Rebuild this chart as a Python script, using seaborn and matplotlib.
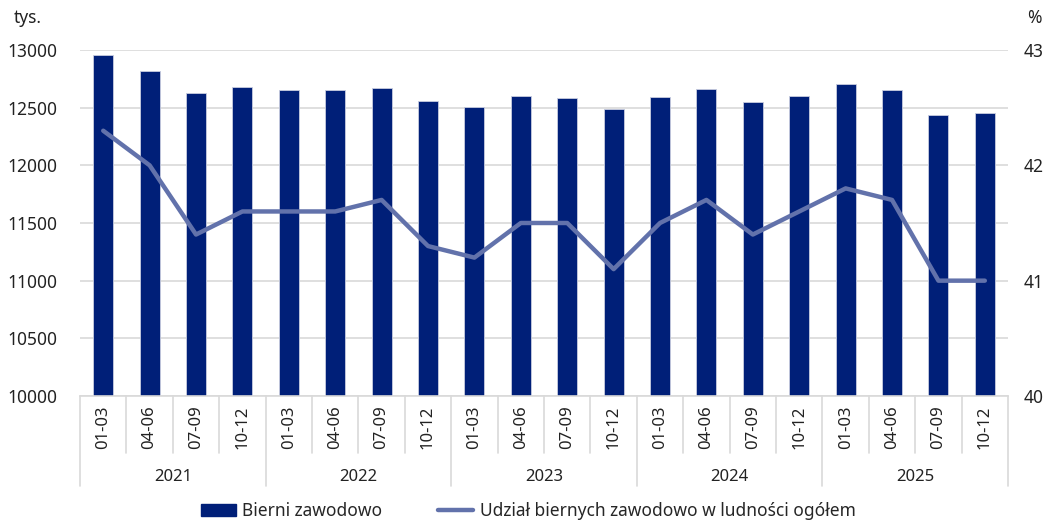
import matplotlib
matplotlib.use("Agg")
import matplotlib.pyplot as plt
from matplotlib.lines import Line2D
from matplotlib.patches import Patch
import pandas as pd
import seaborn as sns

years = ["2021", "2022", "2023", "2024", "2025"]
quarters = ["01-03", "04-06", "07-09", "10-12"]
bierni = [12960, 12820, 12630, 12680, 12655, 12655, 12670, 12560,
          12505, 12600, 12585, 12490, 12595, 12660, 12550, 12600,
          12705, 12655, 12435, 12455]
udzial = [42.3, 42.0, 41.4, 41.6, 41.6, 41.6, 41.7, 41.3,
          41.2, 41.5, 41.5, 41.1, 41.5, 41.7, 41.4, 41.6,
          41.8, 41.7, 41.0, 41.0]

BAR = "#001f78"
LINE = "#6272ab"
GRID = "#d9d9d9"

df = pd.DataFrame({
    "okres": [f"{y} {q}" for y in years for q in quarters],
    "kwartal": [q for y in years for q in quarters],
    "bierni": bierni,
    "udzial": udzial,
})
df["pos"] = range(len(df))

sns.set_style("white")
plt.rcParams["font.family"] = ["Noto Sans", "DejaVu Sans"]

fig = plt.figure(figsize=(10.46, 5.25), dpi=100)
ax = fig.add_axes([0.0765, 0.2457, 0.8872, 0.6591])

sns.barplot(data=df, x="okres", y="bierni", color=BAR, width=0.43,
            edgecolor="#c8cde0", linewidth=0.6, saturation=1, ax=ax, zorder=2)
ax.set_ylim(10000, 13000)
ax.set_xlim(-0.5, len(df) - 0.5)
ax.set_yticks(range(10000, 13001, 500))
ax.yaxis.grid(True, color=GRID, linewidth=1.2, zorder=0)
ax.set_axisbelow(True)
ax.set_xlabel("")
ax.set_ylabel("")
ax.set_xticks([])
for s in ["top", "right", "left"]:
    ax.spines[s].set_visible(False)
ax.spines["bottom"].set_color(GRID)
ax.spines["bottom"].set_linewidth(1.2)
ax.tick_params(axis="y", length=0, labelsize=12.5, pad=16, colors="#222222")

ax2 = ax.twinx()
sns.lineplot(data=df, x="pos", y="udzial", color=LINE, linewidth=3.2, ax=ax2)
ax2.set_ylim(40, 43)
ax2.set_yticks([40, 41, 42, 43])
ax2.set_xlim(-0.5, len(df) - 0.5)
ax2.set_xlabel("")
ax2.set_ylabel("")
for s in ["top", "right", "left", "bottom"]:
    ax2.spines[s].set_visible(False)
ax2.tick_params(axis="y", length=0, labelsize=12.5, pad=11, colors="#222222")

# multi-level category axis
trans = ax.get_xaxis_transform()
n = len(df)
for i, q in enumerate(df["kwartal"]):
    ax.text(i, -0.09, q, rotation=90, ha="center", va="center",
            fontsize=12, color="#222222", transform=trans, clip_on=False)
for i in range(n + 1):
    is_year = i % 4 == 0
    ax.plot([i - 0.5, i - 0.5], [0, -0.26 if is_year else -0.165],
            color=GRID, linewidth=1.2, transform=trans, clip_on=False)
for k, y in enumerate(years):
    ax.text(k * 4 + 1.5, -0.235, y, ha="center", va="center",
            fontsize=12, color="#222222", transform=trans, clip_on=False)

fig.text(0.013, 0.965, "tys.", fontsize=12.5, color="#222222", va="center")
fig.text(0.982, 0.965, "%", fontsize=12.5, color="#222222", va="center")

handles = [Patch(facecolor=BAR, edgecolor=BAR),
           Line2D([0], [0], color=LINE, linewidth=3.2)]
fig.legend(handles, ["Bierni zawodowo", "Udział biernych zawodowo w ludności ogółem"],
           loc="center", bbox_to_anchor=(0.505, 0.027), ncol=2, frameon=False,
           fontsize=12.5, handlelength=2.0, handletextpad=0.4, columnspacing=3.2)

fig.savefig("out.png", dpi=100)
